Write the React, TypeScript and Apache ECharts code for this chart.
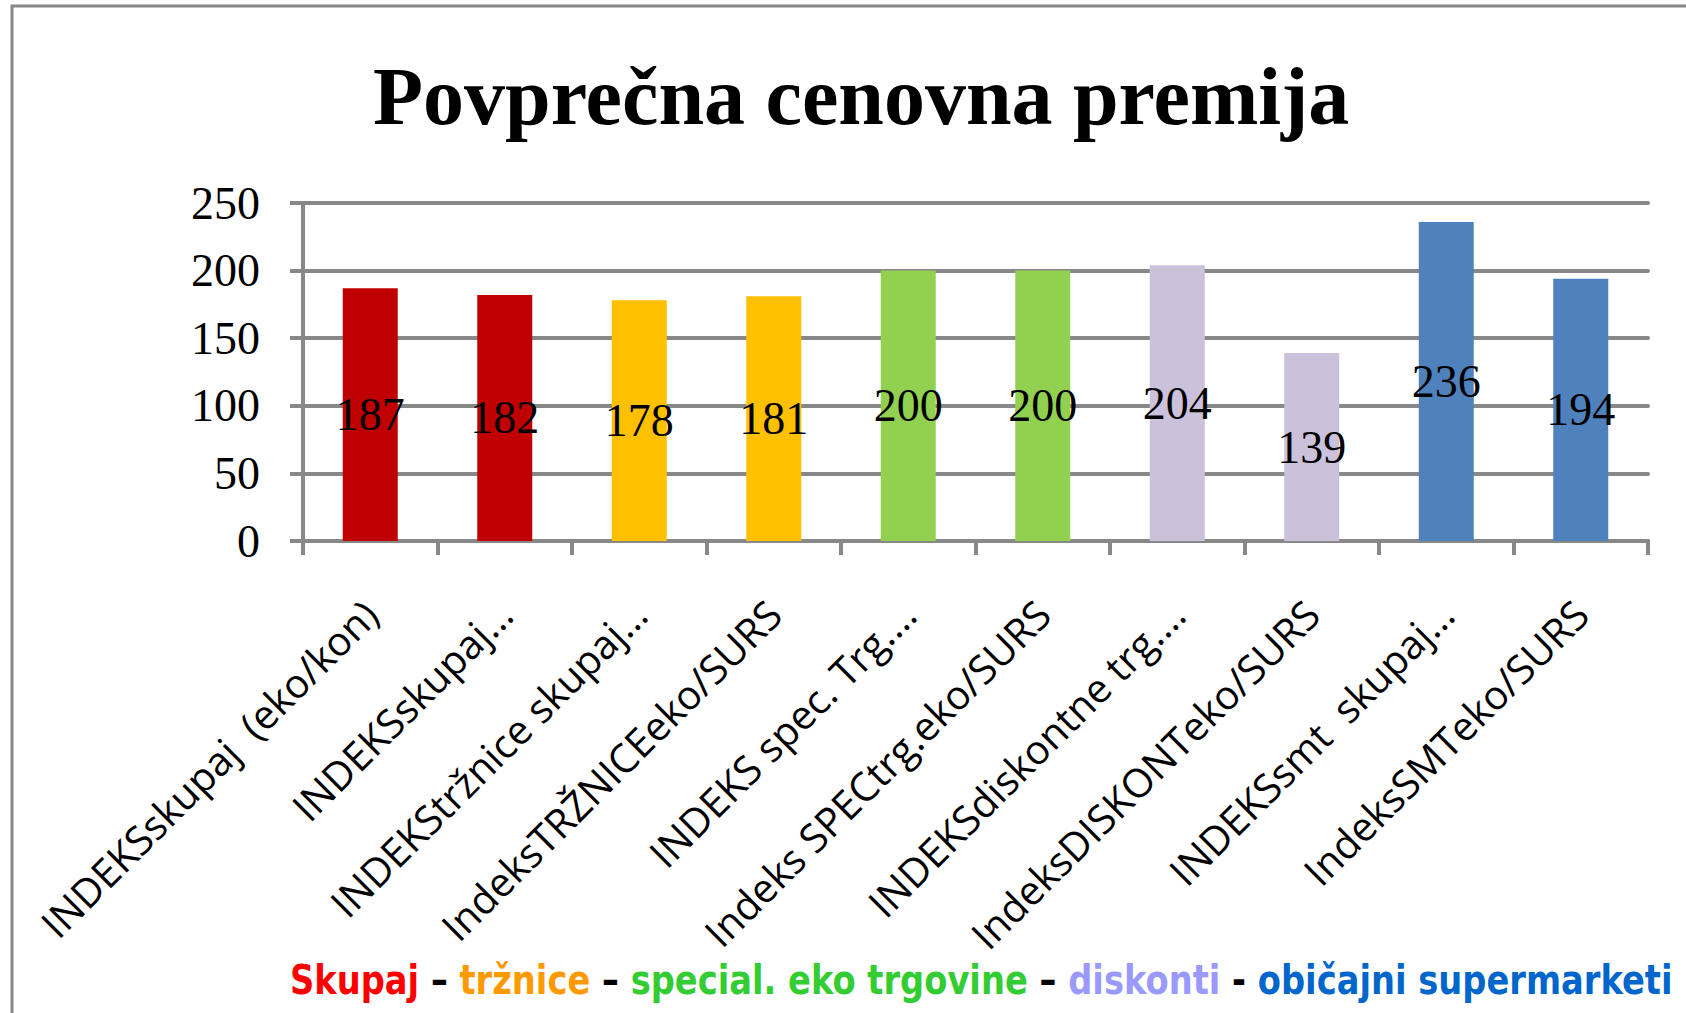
import React, { useEffect, useRef } from "react";
import * as echarts from "echarts";

const titleText = "Povprečna cenovna premija";
const categories = [
  "INDEKSskupaj  (eko/kon)",
  "INDEKSskupaj…",
  "INDEKStržnice skupaj…",
  "IndeksTRŽNICEeko/SURS",
  "INDEKS spec. Trg.…",
  "Indeks SPECtrg.eko/SURS",
  "INDEKSdiskontne trg.…",
  "IndeksDISKONTeko/SURS",
  "INDEKSsmt  skupaj…",
  "IndeksSMTeko/SURS",
];
const values = [187, 182, 178, 181, 200, 200, 204, 139, 236, 194];
const barColors = [
  "#C00000", "#C00000",
  "#FFC000", "#FFC000",
  "#92D050", "#92D050",
  "#CCC1DA", "#CCC1DA",
  "#4F81BD", "#4F81BD",
];
const yTicks = [0, 50, 100, 150, 200, 250];

const legendParts = [
  { key: "r", text: "Skupaj", color: "#FF0000" },
  { key: "k", text: " – ", color: "#000000" },
  { key: "o", text: "tržnice", color: "#FF9900" },
  { key: "k", text: " – ", color: "#000000" },
  { key: "g", text: "special. eko trgovine", color: "#33CC33" },
  { key: "k", text: " – ", color: "#000000" },
  { key: "p", text: "diskonti", color: "#9999FF" },
  { key: "k", text: " - ", color: "#000000" },
  { key: "b", text: "običajni supermarketi", color: "#0066CC" },
];

export default function App() {
  const ref = useRef<HTMLDivElement>(null);
  useEffect(() => {
    if (!ref.current) return;
    const chart = echarts.init(ref.current, null, { renderer: "svg" });

    const legendFont = 'bold 40px "DejaVu Sans"';
    const plain = legendParts.map((p) => p.text).join("");
    let measured = 1800;
    try {
      const ctx = document.createElement("canvas").getContext("2d");
      if (ctx) {
        ctx.font = legendFont;
        measured = ctx.measureText(plain).width;
      }
    } catch (e) {}
    const targetWidth = 1382;
    const sx = targetWidth / measured;

    const rich: any = {};
    legendParts.forEach((p) => {
      rich[p.key] = {
        fill: p.color,
        fontFamily: "DejaVu Sans",
        fontWeight: "bold",
        fontSize: 40,
      };
    });
    const richText = legendParts
      .map((p) => `{${p.key}|${p.text}}`)
      .join("");

    chart.setOption({
      animation: false,
      backgroundColor: "#ffffff",
      title: {
        text: titleText,
        left: 368,
        top: 50,
        textStyle: {
          fontFamily: "Liberation Serif",
          fontWeight: "bold",
          fontSize: 82,
          color: "#000",
        },
      },
      grid: { left: 303, right: 38, top: 203, bottom: 472 },
      xAxis: {
        type: "category",
        data: categories,
        axisLine: { show: true, lineStyle: { color: "#888888", width: 4 } },
        axisTick: {
          show: true,
          length: 14,
          lineStyle: { color: "#888888", width: 4 },
        },
        axisLabel: {
          interval: 0,
          rotate: 45,
          margin: 66,
          fontFamily: "Open Sans",
          fontSize: 40,
          color: "#000",
        },
      },
      yAxis: {
        type: "value",
        min: 0,
        max: 250,
        interval: 50,
        axisLine: { show: true, lineStyle: { color: "#888888", width: 4 } },
        axisTick: {
          show: true,
          length: 13,
          lineStyle: { color: "#888888", width: 4 },
        },
        splitLine: {
          show: true,
          lineStyle: { color: "#888888", width: 4, cap: "round" },
        },
        axisLabel: {
          margin: 43,
          fontFamily: "Liberation Serif",
          fontSize: 46,
          color: "#000",
          formatter: (v: number) => (yTicks.includes(v) ? String(v) : ""),
        },
      },
      series: [
        {
          type: "bar",
          barWidth: 55,
          data: values.map((v, i) => ({
            value: v,
            itemStyle: { color: barColors[i] },
          })),
          label: {
            show: true,
            position: "inside",
            fontFamily: "Liberation Serif",
            fontSize: 46,
            color: "#000",
          },
        },
      ],
      graphic: [
        {
          type: "rect",
          shape: { x: 12, y: 6, width: 1800, height: 1200 },
          style: { fill: "none", stroke: "#888888", lineWidth: 3 },
          silent: true,
        },
        {
          type: "text",
          x: 290,
          y: 980,
          scaleX: sx,
          style: {
            text: richText,
            rich,
            font: legendFont,
            fill: "#000",
            verticalAlign: "middle",
            align: "left",
          },
        },
      ],
    });
    return () => chart.dispose();
  }, []);
  return (
    <div
      ref={ref}
      style={{ position: "absolute", left: 0, top: 0, width: 1686, height: 1013 }}
    />
  );
}
